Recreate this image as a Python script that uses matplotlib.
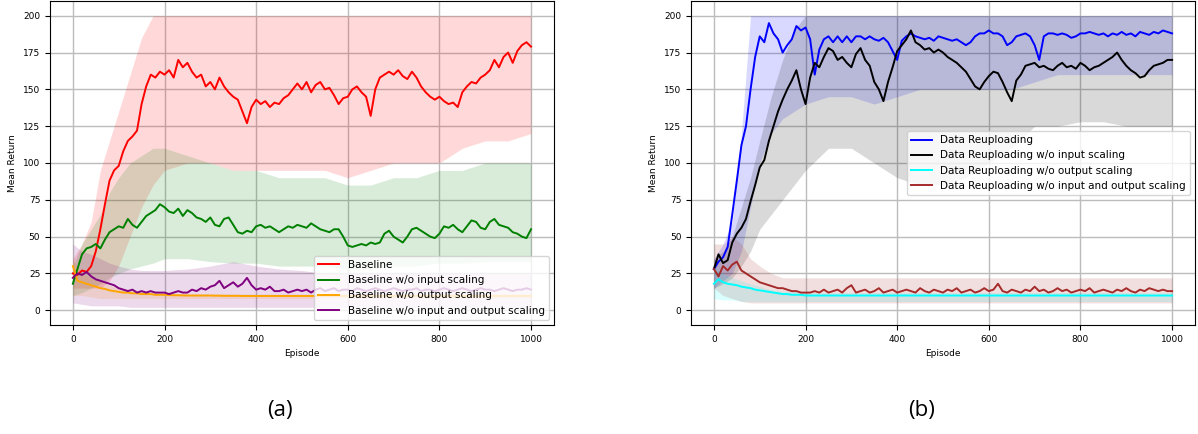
import numpy as np
import matplotlib
matplotlib.use('Agg')
import matplotlib.pyplot as plt

# episode grid for the mean curves (every 10 episodes) and for the shaded bands
episodes = np.arange(0, 1001, 10)
band_episodes = [0, 20, 40, 60, 80, 100, 125, 150, 175, 200, 250, 300, 350, 400, 450,
                 500, 550, 600, 650, 700, 750, 800, 850, 900, 950, 1000]

# ---- panel (a): baseline ----
baseline = [25, 24, 27, 26, 30, 40, 55, 72, 88, 95, 98, 108, 115, 118, 122, 140, 152, 160, 158, 162,
            160, 163, 158, 170, 165, 168, 162, 158, 160, 152, 155, 150, 158, 152, 148, 145, 143, 135, 127, 138,
            143, 140, 142, 138, 141, 140, 144, 146, 150, 154, 150, 155, 148, 153, 155, 150, 151, 146, 140, 144,
            145, 150, 152, 148, 145, 132, 150, 158, 160, 162, 160, 163, 159, 157, 162, 158, 152, 148, 145, 143,
            145, 142, 140, 141, 138, 148, 152, 155, 154, 158, 160, 163, 170, 165, 172, 175, 168, 176, 180, 182,
            179]
baseline_no_in = [18, 28, 38, 42, 43, 45, 42, 48, 53, 55, 57, 56, 62, 58, 56, 60, 64, 66, 68, 72,
                  70, 67, 66, 69, 64, 68, 66, 63, 62, 60, 63, 58, 57, 62, 63, 58, 53, 52, 54, 53,
                  57, 58, 56, 57, 55, 53, 55, 57, 56, 58, 57, 56, 59, 57, 55, 54, 53, 55, 55, 50,
                  44, 43, 44, 45, 44, 46, 45, 46, 52, 54, 50, 48, 46, 50, 55, 56, 54, 52, 50, 49,
                  52, 57, 56, 58, 55, 53, 57, 61, 60, 56, 55, 60, 62, 58, 57, 56, 53, 52, 50, 49,
                  55]
baseline_no_out = [30, 20, 19, 18, 17, 16, 15, 14.5, 13.5, 13, 12.5, 12, 12, 11.5, 11.5, 11, 11, 11, 10.5, 10.5,
                   10.5, 10.3, 10.2, 10.2, 10.1, 10, 10, 10, 10, 10, 10, 9.9, 9.9, 9.8, 9.8, 9.8, 9.8, 9.7, 9.7, 9.7,
                   9.7, 9.7, 9.7, 9.7, 9.7, 9.7, 9.7, 9.7, 9.7, 9.7, 9.7, 9.7, 9.7, 9.7, 9.7, 9.7, 9.7, 9.7, 9.7, 9.7,
                   9.7, 9.7, 9.7, 9.7, 9.7, 9.7, 9.7, 9.7, 9.7, 9.7, 9.7, 9.7, 9.7, 9.7, 9.7, 9.7, 9.7, 9.7, 9.7, 9.7,
                   9.7, 9.7, 9.7, 9.7, 9.7, 9.7, 9.7, 9.7, 9.7, 9.7, 9.7, 9.7, 9.7, 9.7, 9.7, 9.7, 9.7, 9.7, 9.7, 9.7,
                   9.7]
baseline_no_both = [22, 25, 24, 26, 23, 21, 20, 19, 18, 17, 15, 14, 13, 14, 12, 13, 12, 13, 12, 12,
                    12, 11, 12, 13, 12, 12, 14, 13, 15, 14, 16, 17, 20, 15, 17, 19, 16, 18, 22, 17,
                    14, 15, 14, 16, 13, 13, 14, 12, 13, 14, 13, 14, 12, 14, 15, 13, 14, 15, 13, 14,
                    14, 13, 15, 14, 13, 14, 15, 14, 13, 14, 15, 14, 13, 14, 14, 15, 13, 14, 14, 13,
                    14, 15, 14, 13, 14, 15, 14, 13, 14, 15, 14, 14, 13, 14, 15, 14, 13, 14, 14, 15,
                    14]

baseline_lo = [15, 15, 15, 15, 20, 30, 50, 70, 85, 95, 100, 100, 95, 95, 95, 95, 95, 90, 95, 100,
               100, 100, 110, 115, 115, 120]
baseline_hi = [35, 45, 60, 95, 115, 135, 160, 185, 200, 200, 200, 200, 200, 200, 200, 200, 200, 200, 200, 200,
               200, 200, 200, 200, 200, 200]
baseline_no_in_lo = [10, 12, 15, 18, 22, 25, 28, 30, 32, 35, 35, 33, 32, 32, 30, 30, 30, 28, 28, 30,
                     30, 32, 32, 33, 33, 33]
baseline_no_in_hi = [30, 45, 55, 65, 80, 90, 100, 105, 110, 110, 105, 100, 95, 95, 90, 90, 90, 85, 85, 90,
                     90, 95, 95, 100, 100, 100]
baseline_no_out_lo = [10, 10, 9, 8, 8, 8, 8, 8, 8, 8, 8, 8, 8, 8, 8, 8, 8, 8, 8, 8, 8, 8, 8, 8, 8, 8]
baseline_no_out_hi = [35, 25, 22, 20, 17, 15, 14, 13, 12, 12, 11, 11, 11, 11, 11, 11, 11, 11, 11, 11,
                      11, 11, 11, 11, 11, 11]
baseline_no_both_lo = [5, 4, 3, 3, 3, 3, 2, 2, 2, 2, 2, 2, 2, 2, 2, 2, 2, 2, 2, 2, 2, 2, 2, 2, 2, 2]
baseline_no_both_hi = [45, 40, 38, 35, 32, 30, 28, 27, 27, 27, 28, 30, 33, 30, 28, 27, 25, 25, 25, 25,
                       25, 25, 25, 25, 25, 25]

# ---- panel (b): data reuploading ----
reup = [28, 33, 36, 43, 65, 88, 112, 125, 150, 172, 186, 182, 195, 188, 184, 175, 180, 184, 193, 190,
        192, 184, 160, 177, 184, 186, 182, 186, 182, 186, 182, 186, 186, 184, 186, 184, 183, 185, 182, 176,
        170, 183, 186, 188, 186, 185, 184, 185, 183, 186, 185, 184, 183, 184, 182, 180, 182, 186, 188, 188,
        190, 188, 188, 186, 180, 182, 186, 187, 188, 186, 180, 170, 186, 188, 188, 187, 188, 187, 185, 186,
        188, 188, 189, 188, 187, 188, 186, 188, 187, 189, 187, 188, 186, 189, 188, 187, 189, 188, 190, 189,
        188]
reup_no_in = [28, 38, 32, 34, 46, 52, 56, 62, 74, 85, 97, 102, 115, 125, 135, 143, 150, 156, 163, 150,
              140, 158, 168, 165, 172, 178, 176, 170, 172, 168, 165, 174, 178, 170, 166, 155, 150, 142, 155, 165,
              176, 180, 184, 190, 182, 180, 177, 178, 175, 177, 175, 172, 170, 168, 165, 162, 157, 152, 150, 155,
              159, 162, 161, 155, 148, 142, 156, 160, 166, 167, 168, 165, 166, 164, 163, 166, 168, 165, 166, 164,
              168, 166, 163, 165, 166, 168, 170, 172, 175, 170, 166, 163, 161, 158, 159, 163, 166, 167, 168, 170,
              170]
reup_no_out = [18, 21, 19, 18, 17.5, 17, 16, 15.5, 15, 14, 13.5, 13, 12.5, 12, 11.5, 11, 11, 10.5, 10.5, 10.5,
               10, 10, 10, 10, 10, 10, 10, 10, 10, 10, 10, 10, 10, 10, 10, 10, 10, 10, 10, 10,
               10, 10, 10, 10, 10, 10, 10, 10, 10, 10, 10, 10, 10, 10, 10, 10, 10, 10, 10, 10,
               10, 10, 10, 10, 10, 10, 10, 10, 10, 10, 10, 10, 10, 10, 10, 10, 10, 10, 10, 10,
               10, 10, 10, 10, 10, 10, 10, 10, 10, 10, 10, 10, 10, 10, 10, 10, 10, 10, 10, 10,
               10]
reup_no_both = [28, 23, 30, 27, 31, 33, 27, 25, 23, 21, 19, 18, 17, 16, 15, 15, 14, 13, 13, 12,
                12, 12, 13, 12, 14, 12, 13, 14, 12, 15, 17, 12, 13, 14, 12, 13, 15, 12, 13, 14,
                12, 13, 14, 13, 12, 15, 13, 12, 14, 13, 12, 14, 13, 15, 12, 13, 14, 12, 13, 15,
                13, 14, 18, 13, 12, 14, 13, 12, 14, 13, 16, 13, 14, 12, 13, 15, 13, 14, 12, 13,
                14, 13, 15, 12, 13, 14, 13, 12, 14, 13, 15, 13, 12, 14, 13, 15, 14, 13, 14, 13,
                13]

reup_lo = [15, 20, 25, 40, 70, 100, 120, 130, 135, 140, 145, 145, 140, 145, 150, 150, 150, 150, 150, 155,
           160, 160, 160, 160, 160, 160]
reup_hi = [35, 45, 60, 120, 200, 200, 200, 200, 200, 200, 200, 200, 200, 200, 200, 200, 200, 200, 200, 200,
           200, 200, 200, 200, 200, 200]
reup_no_in_lo = [15, 18, 22, 30, 40, 55, 65, 75, 85, 95, 110, 110, 100, 90, 85, 85, 90, 100, 110, 125,
                 125, 128, 128, 125, 125, 125]
reup_no_in_hi = [35, 40, 50, 70, 90, 115, 145, 170, 190, 200, 200, 200, 200, 200, 200, 200, 200, 200, 200, 200,
                 200, 200, 200, 200, 200, 200]
reup_no_out_lo = [8, 7, 7, 6, 6, 6, 6, 6, 6, 6, 6, 6, 6, 6, 6, 6, 6, 6, 6, 6, 6, 6, 6, 6, 6, 6]
reup_no_out_hi = [30, 25, 22, 20, 18, 16, 14, 13, 13, 12, 12, 12, 12, 12, 12, 12, 12, 12, 12, 12,
                  12, 12, 12, 12, 12, 12]
reup_no_both_lo = [15, 10, 8, 6, 5, 5, 5, 5, 5, 5, 5, 5, 5, 5, 5, 5, 5, 5, 5, 5, 5, 5, 5, 5, 5, 5]
reup_no_both_hi = [45, 45, 50, 45, 35, 30, 25, 22, 22, 22, 22, 22, 22, 22, 22, 22, 22, 22, 22, 22,
                   22, 22, 22, 22, 22, 22]

left_series = [
    ('Baseline', baseline, baseline_lo, baseline_hi, 'red'),
    ('Baseline w/o input scaling', baseline_no_in, baseline_no_in_lo, baseline_no_in_hi, 'green'),
    ('Baseline w/o output scaling', baseline_no_out, baseline_no_out_lo, baseline_no_out_hi, 'orange'),
    ('Baseline w/o input and output scaling', baseline_no_both, baseline_no_both_lo, baseline_no_both_hi, 'purple'),
]
right_series = [
    ('Data Reuploading', reup, reup_lo, reup_hi, 'blue'),
    ('Data Reuploading w/o input scaling', reup_no_in, reup_no_in_lo, reup_no_in_hi, 'black'),
    ('Data Reuploading w/o output scaling', reup_no_out, reup_no_out_lo, reup_no_out_hi, 'cyan'),
    ('Data Reuploading w/o input and output scaling', reup_no_both, reup_no_both_lo, reup_no_both_hi, 'brown'),
]

fig = plt.figure(figsize=(11.98, 4.34), dpi=100)
ax1 = fig.add_axes([0.0417, 0.2512, 0.4207, 0.7465])
ax2 = fig.add_axes([0.5768, 0.2512, 0.4207, 0.7465])


def draw_panel(ax, series, legend_loc):
    for name, mean, lo, hi, color in series:
        ax.fill_between(band_episodes, lo, hi, color=color, alpha=0.15, linewidth=0)
    for name, mean, lo, hi, color in series:
        ax.plot(episodes, mean, color=color, linewidth=1.4, label=name)
    ax.set_xlim(-50, 1050)
    ax.set_ylim(-10, 210)
    ax.set_xticks(range(0, 1001, 200))
    ax.set_yticks(range(0, 201, 25))
    ax.tick_params(labelsize=6.5)
    ax.grid(True, color='#bcbcbc', linewidth=1.0)
    ax.set_axisbelow(True)
    ax.set_xlabel('Episode', fontsize=6.5)
    ax.set_ylabel('Mean Return', fontsize=6.5)
    ax.legend(loc=legend_loc, fontsize=7.5)


draw_panel(ax1, left_series, 'lower right')
draw_panel(ax2, right_series, 'center right')

fig.text(0.234, 0.055, '(a)', ha='center', va='center', fontsize=16, family='Open Sans')
fig.text(0.769, 0.055, '(b)', ha='center', va='center', fontsize=16, family='Open Sans')

fig.savefig('out.png', dpi=100)
